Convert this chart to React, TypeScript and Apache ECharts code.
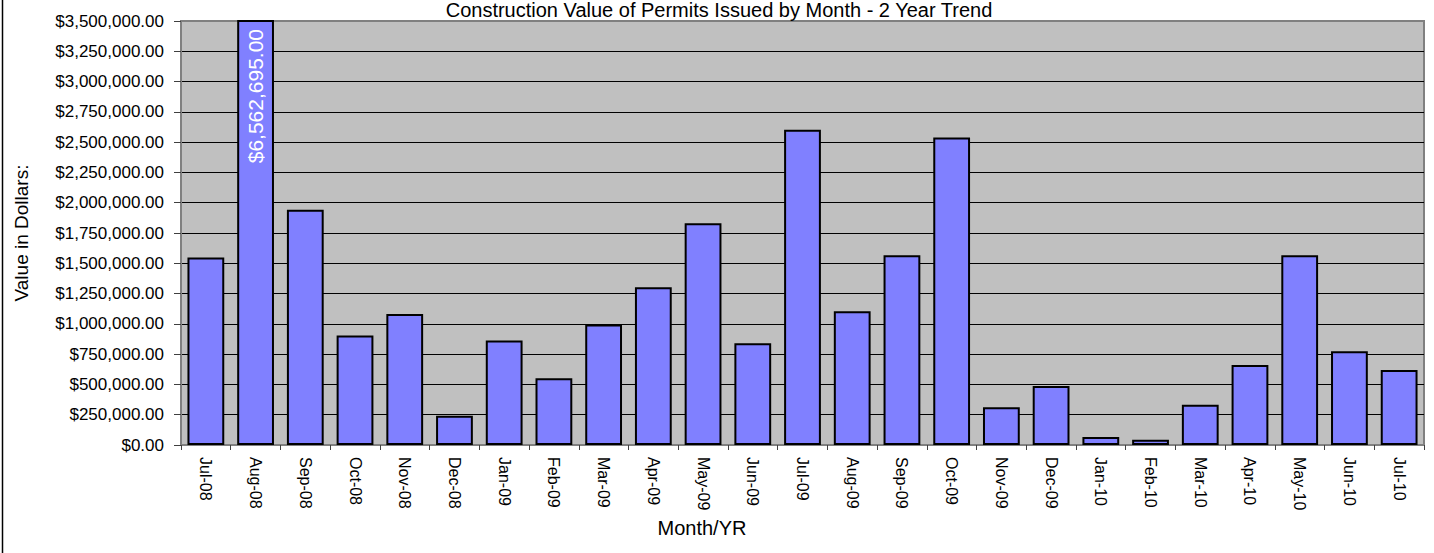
import React, { useEffect, useRef } from "react";
import * as echarts from "echarts";

const categories = [
  "Jul-08", "Aug-08", "Sep-08", "Oct-08", "Nov-08", "Dec-08", "Jan-09", "Feb-09",
  "Mar-09", "Apr-09", "May-09", "Jun-09", "Jul-09", "Aug-09", "Sep-09", "Oct-09",
  "Nov-09", "Dec-09", "Jan-10", "Feb-10", "Mar-10", "Apr-10", "May-10", "Jun-10", "Jul-10",
];

const values = [
  1547000, 6562695, 1941000, 903000, 1082000, 242000, 862000, 551000,
  994000, 1302000, 1831000, 840000, 2602000, 1104000, 1567000, 2538000,
  311000, 487000, 66000, 44000, 333000, 661000, 1567000, 774000, 619000,
];

const yMin = 0;
const yMax = 3500000;
const yInterval = 250000;

const titleText = "Construction Value of Permits Issued by Month - 2 Year Trend";
const yName = "Value in Dollars:";
const xName = "Month/YR";

const FONT = '"Liberation Sans", Arial, sans-serif';

const money = (v: number) =>
  "$" + v.toLocaleString("en-US", { minimumFractionDigits: 2, maximumFractionDigits: 2 });

export default function App() {
  const ref = useRef<HTMLDivElement>(null);

  useEffect(() => {
    if (!ref.current) return;
    const chart = echarts.init(ref.current, null, { renderer: "svg" });

    const data = values.map((v) =>
      v > yMax ? { value: v, label: { show: true } } : v
    );

    chart.setOption({
      animation: false,
      textStyle: { fontFamily: FONT },
      grid: {
        left: 181,
        right: 10,
        top: 21,
        bottom: 108,
        show: true,
        backgroundColor: "#C0C0C0",
        borderColor: "#808080",
        borderWidth: 2,
      },
      xAxis: {
        type: "category",
        data: categories,
        axisLine: { lineStyle: { color: "#808080", width: 2 } },
        axisTick: { show: true, length: 5, lineStyle: { color: "#404040" } },
        axisLabel: { rotate: -90, margin: 12, fontSize: 16, color: "#000", fontFamily: FONT },
      },
      yAxis: {
        type: "value",
        min: yMin,
        max: yMax,
        interval: yInterval,
        axisLine: { show: true, lineStyle: { color: "#808080", width: 2 } },
        axisTick: { show: true, length: 7, lineStyle: { color: "#404040" } },
        axisLabel: { margin: 17, fontSize: 17, color: "#000", fontFamily: FONT, formatter: (v: number) => money(v) },
        splitLine: { show: true, showMinLine: false, showMaxLine: false, lineStyle: { color: "#000", width: 1 } },
        name: yName,
        nameLocation: "middle",
        nameGap: 150,
        nameTextStyle: { fontSize: 19, color: "#000", fontFamily: FONT },
      },
      series: [
        {
          type: "bar",
          data,
          barCategoryGap: "26%",
          clip: true,
          itemStyle: { color: "#8080FF", borderColor: "#000", borderWidth: 2 },
          label: {
            show: false,
            position: "insideTop",
            rotate: 90,
            align: "right",
            verticalAlign: "middle",
            distance: 9,
            color: "#fff",
            fontSize: 21,
            fontFamily: FONT,
            formatter: (p: any) => money(p.value),
          },
        },
      ],
      graphic: [
        {
          type: "text",
          x: 719,
          y: 10,
          style: {
            text: titleText,
            fontSize: 20,
            fontFamily: FONT,
            fill: "#000",
            align: "center",
            verticalAlign: "middle",
          },
        },
        {
          type: "text",
          x: 702,
          y: 528,
          style: {
            text: xName,
            fontSize: 20,
            fontFamily: FONT,
            fill: "#000",
            align: "center",
            verticalAlign: "middle",
          },
        },
        {
          type: "line",
          shape: { x1: 2.5, y1: 0, x2: 2.5, y2: 553 },
          style: { stroke: "#000", lineWidth: 1.5 },
        },
      ],
    });

    return () => chart.dispose();
  }, []);

  return (
    <div
      ref={ref}
      style={{ position: "absolute", left: 0, top: 0, width: 1434, height: 553 }}
    />
  );
}
